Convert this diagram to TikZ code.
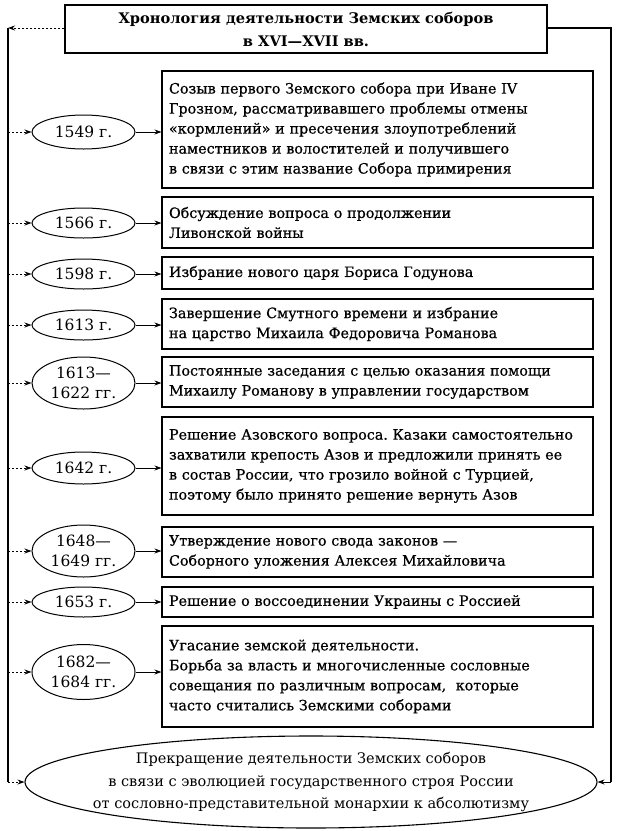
\documentclass[tikz,border=0pt]{standalone}
\usepackage{fontspec}
\setmainfont{DejaVu Serif}
\newfontfamily\semib[FakeBold=0.6,Ligatures=TeX]{DejaVu Serif}
\usetikzlibrary{arrows.meta,shapes.geometric}
\frenchspacing
\begin{document}
\begin{tikzpicture}[x=1pt,y=-1pt,
  evbox/.style={draw,line width=1.1pt,rectangle,minimum width=431pt,text width=417pt,align=left,inner xsep=7pt,font=\semib\fontsize{14.3}{20}\selectfont,anchor=center},
  yr/.style={draw,line width=1pt,ellipse,minimum width=103pt,inner sep=0pt,font=\fontsize{15.5}{20}\selectfont,align=center},
  arr/.style={line width=0.9pt,-{Stealth[length=7pt,width=5pt]}},
  darr/.style={line width=0.9pt,dash pattern=on 2pt off 2pt,-{Stealth[length=7pt,width=5pt]}},
  ln/.style={line width=1.1pt}]
\useasboundingbox[fill=white] (0,0) rectangle (617,831);
% title
\node[draw,line width=1.1pt,minimum width=482pt,minimum height=48pt,align=center,font=\bfseries\fontsize{14.6}{23}\selectfont] (title) at (306,29) {Хронология деятельности Земских соборов\\в XVI—XVII вв.};
% boxes
\node[evbox,minimum height=117pt] (b1) at (377.5,129.5) {Созыв первого Земского собора при Иване IV\\Грозном, рассматривавшего проблемы отмены\\«кормлений» и пресечения злоупотреблений\\наместников и волостителей и получившего\\в связи с этим название Собора примирения};
\node[evbox,minimum height=51pt] (b2) at (377.5,222.5) {Обсуждение вопроса о продолжении\\Ливонской войны};
\node[evbox,minimum height=32pt] (b3) at (377.5,273) {Избрание нового царя Бориса Годунова};
\node[evbox,minimum height=50pt] (b4) at (377.5,324) {Завершение Смутного времени и избрание\\на царство Михаила Федоровича Романова};
\node[evbox,minimum height=50pt] (b5) at (377.5,382) {Постоянные заседания с целью оказания помощи\\Михаилу Романову в управлении государством};
\node[evbox,minimum height=98pt] (b6) at (377.5,466) {Решение Азовского вопроса. Казаки самостоятельно\\захватили крепость Азов и предложили принять ее\\в состав России, что грозило войной с Турцией,\\поэтому было принято решение вернуть Азов};
\node[evbox,minimum height=50pt] (b7) at (377.5,552) {Утверждение нового свода законов —\\Соборного уложения Алексея Михайловича};
\node[evbox,minimum height=30pt] (b8) at (377.5,602) {Решение о воссоединении Украины с Россией};
\node[evbox,minimum height=101pt] (b9) at (377.5,676.5) {Угасание земской деятельности.\\Борьба за власть и многочисленные сословные\\совещания по различным вопросам,\ \ которые\\часто считались Земскими соборами};
% years
\node[yr,minimum height=34pt] (y1) at (83.5,132) {1549 г.};
\node[yr,minimum height=30pt] (y2) at (83.5,223) {1566 г.};
\node[yr,minimum height=30pt] (y3) at (83.5,274) {1598 г.};
\node[yr,minimum height=30pt] (y4) at (83.5,325) {1613 г.};
\node[yr,minimum height=52pt] (y5) at (83.5,383) {1613—\\1622 гг.};
\node[yr,minimum height=32pt] (y6) at (83.5,468) {1642 г.};
\node[yr,minimum height=52pt] (y7) at (83.5,551) {1648—\\1649 гг.};
\node[yr,minimum height=30pt] (y8) at (83.5,602) {1653 г.};
\node[yr,minimum height=55pt] (y9) at (83.5,672) {1682—\\1684 гг.};
% final ellipse
\node[draw,line width=1.1pt,ellipse,minimum width=572pt,minimum height=92pt,inner sep=0pt] (fin) at (311,782) {};
\node[align=center,inner sep=0pt,font=\fontsize{14.5}{22.5}\selectfont] (fintext) at (fin.center) {Прекращение деятельности Земских соборов\\в связи с эволюцией государственного строя России\\от сословно-представительной монархии к абсолютизму};
% frame coordinates
\coordinate (tl) at (8,28);
\coordinate (bl) at (8,782);
\coordinate (tr) at (611,28);
\coordinate (br) at (611,782);
\draw[darr] (title.west|-tl) -- (tl);
\draw[ln] (tl) -- (bl);
\draw[ln] (title.east|-tr) -- (tr) -- (br);
\draw[arr] (br) -- (fin.east);
\draw[darr] (bl) -- (fin.west);
\foreach \i in {1,...,9}{
  \draw[darr] (y\i.west-|tl) -- (y\i.west);
  \draw[arr] (y\i.east) -- (y\i.east-|b\i.west);
}
\end{tikzpicture}
\end{document}
